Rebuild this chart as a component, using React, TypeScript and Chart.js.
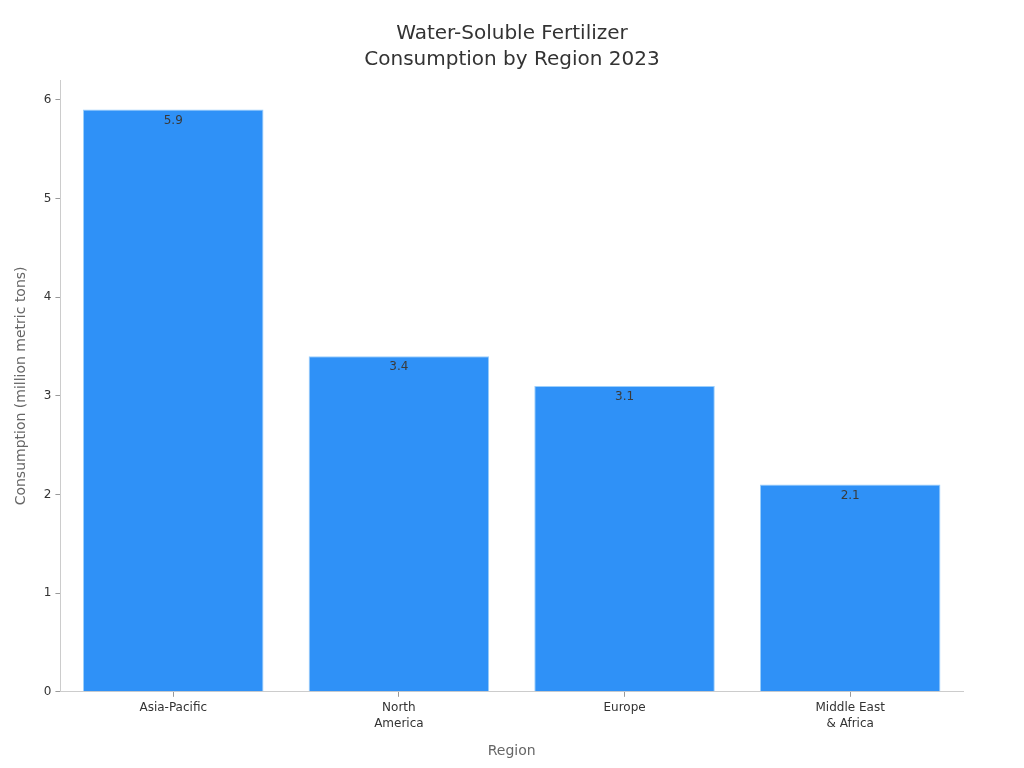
import { useEffect, useRef } from 'react';
import { Chart, registerables } from 'chart.js';

Chart.register(...registerables);

const regions = [['Asia-Pacific'], ['North', 'America'], ['Europe'], ['Middle East', '& Africa']];
const consumption = [5.9, 3.4, 3.1, 2.1];
const titleLines = ['Water-Soluble Fertilizer', 'Consumption by Region 2023'];

const FONT = '"DejaVu Sans", sans-serif';

// title centred on the whole canvas, not on the padded layout box
const centredTitle = {
  id: 'centredTitle',
  afterDraw(chart: Chart) {
    const ctx = chart.ctx;
    ctx.save();
    ctx.font = `20px ${FONT}`;
    ctx.fillStyle = '#333333';
    ctx.textAlign = 'center';
    ctx.textBaseline = 'middle';
    titleLines.forEach((line, i) => {
      ctx.fillText(line, chart.width / 2, 34 + i * 26);
    });
    ctx.restore();
  },
};

// writes the value just under the top edge of each bar
const barLabels = {
  id: 'barLabels',
  afterDatasetsDraw(chart: Chart) {
    const ctx = chart.ctx;
    const meta = chart.getDatasetMeta(0);
    ctx.save();
    ctx.font = `12px ${FONT}`;
    ctx.fillStyle = '#3a3a3a';
    ctx.textAlign = 'center';
    ctx.textBaseline = 'middle';
    meta.data.forEach((bar: any, i: number) => {
      ctx.fillText(String(consumption[i]), bar.x, bar.y + 11);
    });
    ctx.restore();
  },
};

export default function App() {
  const canvasRef = useRef<HTMLCanvasElement>(null);
  const chartRef = useRef<Chart | null>(null);

  useEffect(() => {
    document.body.style.margin = '0';
    if (!canvasRef.current) return;
    const ctx = canvasRef.current.getContext('2d');
    if (!ctx) return;

    chartRef.current = new Chart(ctx, {
      type: 'bar',
      data: {
        labels: regions,
        datasets: [
          {
            data: consumption,
            backgroundColor: '#2f91f7',
            borderColor: '#9ccffb',
            borderWidth: 1,
            barPercentage: 0.8,
            categoryPercentage: 1,
          },
        ],
      },
      options: {
        responsive: true,
        maintainAspectRatio: false,
        animation: false,
        layout: { padding: { top: 80, right: 61, bottom: 8, left: 13 } },
        plugins: {
          legend: { display: false },
          tooltip: { enabled: false },
          title: { display: false },
        },
        scales: {
          x: {
            grid: { display: true, offset: false, drawOnChartArea: false, drawTicks: true, tickLength: 5, color: '#999999' },
            border: { color: '#cccccc' },
            ticks: { color: '#333333', font: { family: FONT, size: 12, lineHeight: 1.35 }, padding: 3 },
            title: {
              display: true,
              text: 'Region',
              color: '#666666',
              font: { family: FONT, size: 14 },
              padding: { top: 8, bottom: 0 },
            },
          },
          y: {
            min: 0,
            max: 6.2,
            afterBuildTicks: (scale: any) => {
              scale.ticks = scale.ticks.filter((t: any) => Number.isInteger(t.value));
            },
            grid: { display: true, drawOnChartArea: false, drawTicks: true, tickLength: 5, color: '#999999' },
            border: { color: '#cccccc' },
            ticks: { stepSize: 1, color: '#333333', font: { family: FONT, size: 12 }, padding: 4 },
            title: {
              display: true,
              text: 'Consumption (million metric tons)',
              color: '#666666',
              font: { family: FONT, size: 14 },
              padding: { top: 0, bottom: 10 },
            },
          },
        },
      },
      plugins: [barLabels, centredTitle],
    });

    return () => {
      if (chartRef.current) {
        chartRef.current.destroy();
        chartRef.current = null;
      }
    };
  }, []);

  return (
    <div style={{ width: 1024, height: 768, position: 'relative', background: '#ffffff' }}>
      <canvas ref={canvasRef} />
    </div>
  );
}
